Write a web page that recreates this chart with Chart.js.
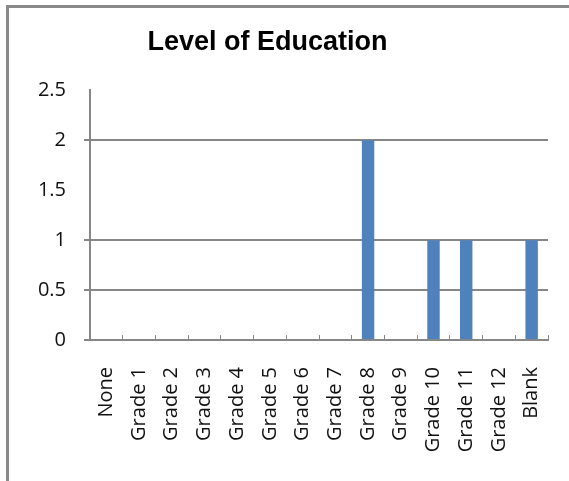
<!DOCTYPE html>
<html>
<head>
<meta charset="utf-8">
<script src="https://cdn.jsdelivr.net/npm/chart.js@4/dist/chart.umd.min.js"></script>
<style>
  html, body { margin: 0; padding: 0; background: #fff; }
  #wrap { position: relative; width: 569px; height: 481px; overflow: hidden; }
  #frame { position: absolute; left: 6px; top: 5px; right: -10px; bottom: -10px;
           border-top: 3px solid #8a8a8a; border-left: 3px solid #8a8a8a; }
  canvas { position: absolute; left: 0; top: 0; }
</style>
</head>
<body>
<div id="wrap">
  <div id="frame"></div>
  <canvas id="chartEdu" width="569" height="481"></canvas>
</div>
<script>
// ── data ──────────────────────────────────────────────
const categories = ['None', 'Grade 1', 'Grade 2', 'Grade 3', 'Grade 4', 'Grade 5', 'Grade 6',
    'Grade 7', 'Grade 8', 'Grade 9', 'Grade 10', 'Grade 11', 'Grade 12', 'Blank'];
const counts = [0, 0, 0, 0, 0, 0, 0, 0, 2, 0, 1, 1, 0, 1];
const yTicks = [0, 0.5, 1, 1.5, 2, 2.5];
const hiddenGrid = [1.5, 2.5]; // no gridline visible at these in the original

const axisGray = '#878787';
const tickFont = { family: "'Open Sans', sans-serif", size: 20 };

new Chart(document.getElementById('chartEdu'), {
    type: 'bar',
    data: {
        labels: categories,
        datasets: [{
            data: counts,
            backgroundColor: '#4f81bd',
            borderWidth: 0,
            barPercentage: 0.38,
            categoryPercentage: 1,
        }],
    },
    options: {
        responsive: false,
        animation: false,
        layout: { padding: { left: -13, right: 21, top: 0, bottom: 0 } },
        plugins: {
            legend: { display: false },
            tooltip: { enabled: false },
            title: {
                display: true,
                text: 'Level of Education',
                color: '#000',
                font: { family: "'Liberation Sans', Arial, sans-serif", size: 27, weight: 'bold', lineHeight: 1.2 },
                padding: { top: 26, bottom: 32 },
            },
        },
        scales: {
            x: {
                offset: true,
                grid: { offset: true, drawOnChartArea: false, tickLength: -5, color: axisGray, lineWidth: 1 },
                border: { color: axisGray, width: 2 },
                ticks: { autoSkip: false, minRotation: 90, maxRotation: 90, padding: 32, color: '#111', font: tickFont },
                afterFit: (s) => {
                    s.height = 141;
                    s.paddingLeft = 0;
                    s.paddingRight = 0;
                },
            },
            y: {
                min: yTicks[0],
                max: yTicks[yTicks.length - 1],
                afterBuildTicks: (s) => { s.ticks = yTicks.map((v) => ({ value: v })); },
                grid: {
                    color: (c) => (hiddenGrid.includes(c.tick.value) ? 'rgba(0,0,0,0)' : axisGray),
                    lineWidth: 2,
                    tickLength: 6,
                },
                border: { color: axisGray, width: 2 },
                ticks: { padding: 18, color: '#111', font: tickFont, callback: (v) => String(v) },
                afterFit: (s) => { s.width = 103; },
            },
        },
    },
});
</script>
</body>
</html>
